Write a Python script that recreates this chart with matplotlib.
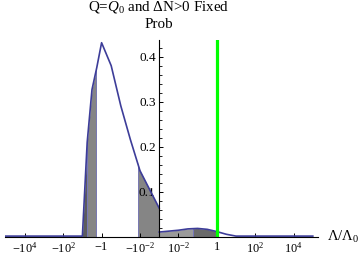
import numpy as np
import matplotlib
matplotlib.use("Agg")
import matplotlib.pyplot as plt
from matplotlib.ticker import FixedLocator, MultipleLocator, NullLocator

plt.rcParams['font.family'] = 'Liberation Serif'
plt.rcParams['mathtext.fontset'] = 'custom'
plt.rcParams['mathtext.rm'] = 'Liberation Serif'
plt.rcParams['mathtext.it'] = 'Liberation Serif:italic'

# Lambda/Lambda0 < 0 branch
neg_lam = [-1e5, -10, -10**0.75, -10**0.5, -10**0.25, -1, -10**-0.5, -0.1,
           -10**-1.5, -0.01, -1e-3]
neg_prob = [0.002, 0.002, 0.21, 0.327, 0.376, 0.431, 0.380, 0.291, 0.216,
            0.147, 0.064]
# Lambda/Lambda0 > 0 branch
pos_lam = [1e-3, 10**-2.5, 0.01, 10**-1.5, 0.1, 10**-0.5, 1, 10**0.5, 10, 1e5]
pos_prob = [0.011, 0.013, 0.015, 0.018, 0.019, 0.017, 0.012, 0.006, 0.002, 0.002]

# shaded intervals (lo, hi, colour)
bands = [(-10**1.07, -10**0.76, '#5c5c5c'),
         (-10**0.76, -10**0.3, '#858585'),
         (-10**-1.91, -1e-3, '#858585'),
         (1e-3, 10**-1.24, '#9a9a9a'),
         (10**-1.24, 1, '#6a6a6a')]

xticks = [-1e4, -1e2, -1, -1e-2, 1e-2, 1, 1e2, 1e4]
xticklabels = [r'$-10^{4}$', r'$-10^{2}$', r'$-1$', r'$-10^{-2}$',
               r'$10^{-2}$', r'$1$', r'$10^{2}$', r'$10^{4}$']


def fwd(x):
    x = np.asarray(x, dtype=float)
    a = np.maximum(np.abs(x), 1e-300)
    return np.sign(x) * (np.log10(a) + 3)


def inv(t):
    t = np.asarray(t, dtype=float)
    return np.sign(t) * 10 ** (np.abs(t) - 3)


fig = plt.figure(figsize=(3.6, 2.56), dpi=100)
ax = fig.add_axes([5 / 360, 19 / 256, 313 / 360, 197 / 256])
ax.set_xscale('function', functions=(fwd, inv))
xlo, xhi = -10**5.03, 10**5.27
ax.set_xlim(xlo, xhi)
ax.set_ylim(0, 0.437)

line_col = '#3d3d99'
for lam, prob in [(neg_lam, neg_prob), (pos_lam, pos_prob)]:
    for lo, hi, col in bands:
        if (lo < 0) != (lam[0] < 0):
            continue
        span = ax.axvspan(lo, hi, alpha=0)
        fill = ax.fill_between(lam, prob, 0, color=col, lw=0, zorder=1)
        fill.set_clip_path(span)
        for edge in (lo, hi):
            ln = ax.axvline(edge, color='#7777bb', lw=0.6, zorder=1.5)
            ln.set_clip_path(fill.get_paths()[0], fill.get_transform())
    ax.plot(lam, prob, color=line_col, lw=1.2, zorder=3)

ax.axvline(1, color='#00ff00', lw=2.3, zorder=4)

frac = (0 - fwd(xlo)) / (fwd(xhi) - fwd(xlo))
ax.spines['left'].set_position(('axes', frac))
ax.spines['top'].set_visible(False)
ax.spines['right'].set_visible(False)
for s in ('left', 'bottom'):
    ax.spines[s].set_linewidth(0.8)
    ax.spines[s].set_zorder(5)

ax.xaxis.set_major_locator(FixedLocator(xticks))
ax.set_xticklabels(xticklabels)
ax.xaxis.set_minor_locator(NullLocator())
ax.tick_params(axis='x', direction='in', length=3, width=0.7, pad=3.2,
               labelsize=8.8)
ax.yaxis.set_major_locator(FixedLocator([0.1, 0.2, 0.3, 0.4]))
ax.yaxis.set_minor_locator(MultipleLocator(0.02))
ax.tick_params(axis='y', which='major', direction='in', length=3.2,
               width=0.7, pad=2.5, labelsize=9.5)
ax.tick_params(axis='y', which='minor', direction='in', length=1.8,
               width=0.6)

fig.text(159 / 360, 1 - 7 / 256, r'Q=$Q_0$ and ΔN>0 Fixed', ha='center',
         va='center', fontsize=10.8)
fig.text(159 / 360, 1 - 25 / 256, 'Prob', ha='center', va='center',
         fontsize=10.8)
ax.text(1.029, 0, r'Λ/$\mathrm{Λ}_0$', transform=ax.transAxes, ha='left',
        va='center', fontsize=10.5)

fig.savefig('out.png', dpi=100)
